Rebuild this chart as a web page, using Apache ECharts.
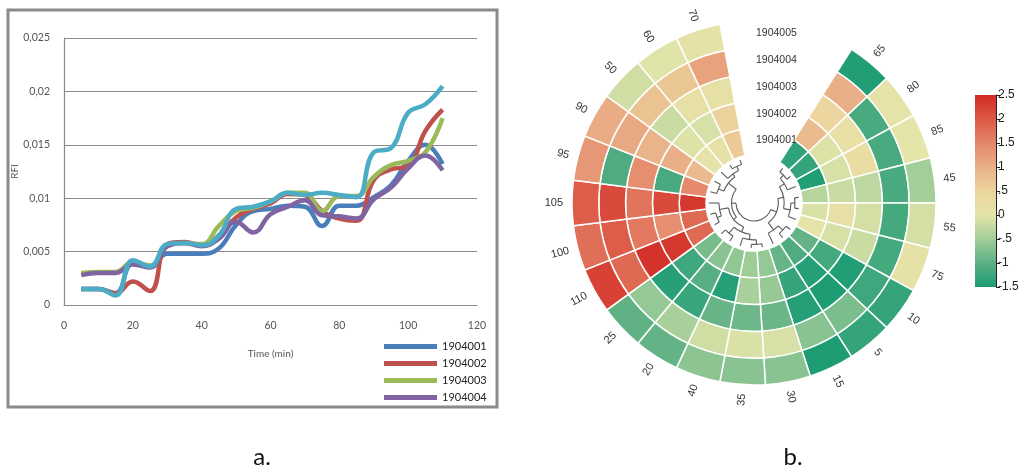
<!DOCTYPE html>
<html>
<head>
<meta charset="utf-8">
<script src="https://cdn.jsdelivr.net/npm/echarts@6/dist/echarts.min.js"></script>
<style>
  html, body { margin: 0; padding: 0; background: #ffffff; }
  #main { width: 1024px; height: 468px; }
</style>
</head>
<body>
<div id="main"></div>
<script>
// ---------- Panel a: RFI over time ----------
const timePoints = [5, 10, 15, 20, 25, 30, 35, 40, 45, 50, 55, 60, 65, 70, 75, 80, 85, 90, 95, 100, 105, 110];
const rfi1904001 = [0.0015, 0.0015, 0.0011, 0.0039, 0.0036, 0.0048, 0.0048, 0.0048, 0.0053, 0.0075, 0.0088, 0.0090, 0.0093, 0.0092, 0.0074, 0.0093, 0.0093, 0.0101, 0.0112, 0.0135, 0.0150, 0.0132];
const rfi1904002 = [0.0015, 0.0015, 0.0011, 0.0022, 0.0013, 0.0057, 0.0059, 0.0056, 0.0065, 0.0082, 0.0090, 0.0095, 0.0104, 0.0103, 0.0088, 0.0081, 0.0079, 0.0117, 0.0127, 0.0130, 0.0163, 0.0183];
const rfi1904003 = [0.0030, 0.0031, 0.0031, 0.0040, 0.0037, 0.0055, 0.0058, 0.0057, 0.0074, 0.0088, 0.0091, 0.0097, 0.0105, 0.0105, 0.0088, 0.0102, 0.0102, 0.0120, 0.0131, 0.0135, 0.0143, 0.0175];
const rfi1904004 = [0.0028, 0.0030, 0.0030, 0.0038, 0.0035, 0.0055, 0.0058, 0.0055, 0.0062, 0.0078, 0.0068, 0.0085, 0.0092, 0.0098, 0.0084, 0.0083, 0.0081, 0.0099, 0.0110, 0.0128, 0.0140, 0.0126];
const rfi1904005 = [0.0015, 0.0015, 0.0009, 0.0042, 0.0036, 0.0057, 0.0058, 0.0056, 0.0065, 0.0090, 0.0092, 0.0097, 0.0105, 0.0103, 0.0105, 0.0103, 0.0101, 0.0143, 0.0147, 0.0180, 0.0188, 0.0205];
const lineNames = ['1904001', '1904002', '1904003', '1904004', '1904005'];
const lineColors = ['#4a7ebb', '#c0504d', '#9bbb59', '#8064a2', '#4bacc6'];
const legendNames = ['1904001', '1904002', '1904003', '1904004'];

// ---------- Panel b: circular heat map ----------
const samples = ['1904001', '1904002', '1904003', '1904004', '1904005'];
const sectorLabels = ['65', '80', '85', '45', '55', '75', '10', '5', '15', '30', '35', '40', '20', '25', '110', '100', '105', '95', '90', '50', '60', '70'];
const heat1904001 = [-1.35, -1.3, -1.45, -0.35, -0.08, 0.02, -0.95, -1.1, -0.92, -0.6, -0.52, -0.62, -0.68, -0.8, 1.8, 1.8, 2.35, 1.45, 0.85, 0.05, 0.1, 0.65];
const heat1904002 = [0.85, -0.05, -0.1, -0.2, 0.15, -0.1, -1.18, -1.42, -1.3, -0.58, -0.45, -1.42, -1.05, -1.22, 2.35, 1.4, 2.15, -1.15, 1.0, -0.05, -0.1, 0.55];
const heat1904003 = [0.5, 0.2, 0.25, -0.3, -0.12, -0.2, -1.45, -1.48, -1.42, -0.9, -0.88, -0.92, -1.28, -1.4, 2.4, 1.65, 1.7, 1.4, 0.95, -0.2, 0.15, 0.15];
const heat1904004 = [1.0, -1.15, -1.15, -1.15, -1.18, -1.18, -1.22, -0.78, -0.68, -0.1, -0.08, -0.15, -0.45, -0.6, 1.8, 1.95, 2.15, -1.1, 1.1, 0.75, 0.7, 1.15];
const heat1904005 = [-1.45, 0.05, 0.0, -0.5, -0.12, 0.12, -1.3, -1.3, -1.48, -0.68, -0.68, -0.66, -0.95, -0.97, 2.25, 1.75, 1.95, 1.3, 1.05, -0.15, -0.02, 0.08];
const heatRows = [heat1904001, heat1904002, heat1904003, heat1904004, heat1904005];

// colour scale from -1.5 to 2.5 in steps of 0.5
const scaleMin = -1.5, scaleMax = 2.5;
const scaleColors = ['#1b9c74', '#5cb084', '#a2ce98', '#e4e5a9', '#edd59f', '#e9b087', '#e4866a', '#dc5846', '#d22a25'];

// hierarchical clustering of the time points: [height, left, right]
const clusterTree = [6.0,
  [4.6,
    [3.3, [2.0, [1.0, '65', '80'], '85'], [1.8, [0.9, '45', '55'], '75']],
    [2.6, [1.2, '10', '5'], '15']],
  [5.0,
    [4.2, [3.0, [1.8, [0.8, '30', '35'], '40'], [1.3, '20', '25']], [2.2, [1.2, '110', '100'], '105']],
    [2.8, [1.5, '95', '90'], [2.0, '50', [1.0, '60', '70']]]]
];

// ---------- layout ----------
const GAP_SLOTS = 3;
const angleSlots = sectorLabels.length + GAP_SLOTS;
const polarCenter = [754, 203];
const sansFont = 'Liberation Sans';

// build the series data
const heatData = [];
heatRows.forEach((row, ring) => {
  row.forEach((v, i) => heatData.push([ring, i + 0.5, v]));
});

const treeSegments = [];
function layoutTree(node) {
  if (typeof node === 'string') return { h: 0, t: sectorLabels.indexOf(node) + 0.5 };
  const h = node[0];
  const a = layoutTree(node[1]);
  const b = layoutTree(node[2]);
  treeSegments.push([a.h, a.t, h, 0]);
  treeSegments.push([b.h, b.t, h, 0]);
  treeSegments.push([h, a.t, b.t, 1]);
  return { h: h, t: (a.t + b.t) / 2 };
}
layoutTree(clusterTree);

function renderCell(params, api) {
  const ring = api.value(0), pos = api.value(1);
  const p = api.coord([ring, pos]);
  const s = api.size([1, 1], [ring, pos]);
  const cs = params.coordSys;
  return {
    type: 'sector',
    shape: {
      cx: cs.cx, cy: cs.cy,
      r0: p[2] - s[0] / 2, r: p[2] + s[0] / 2,
      startAngle: -p[3] - s[1] / 2, endAngle: -p[3] + s[1] / 2,
      clockwise: true
    },
    style: { fill: api.visual('color'), stroke: '#ffffff', lineWidth: 1.5 }
  };
}

function renderBranch(params, api) {
  const cs = params.coordSys;
  const kind = api.value(3);
  const style = { stroke: '#5c5c5c', lineWidth: 1.1, fill: 'none' };
  if (kind === 0) {
    const p1 = api.coord([api.value(0), api.value(1)]);
    const p2 = api.coord([api.value(2), api.value(1)]);
    return { type: 'line', shape: { x1: p1[0], y1: p1[1], x2: p2[0], y2: p2[1] }, style: style };
  }
  const q1 = api.coord([api.value(0), api.value(1)]);
  const q2 = api.coord([api.value(0), api.value(2)]);
  return {
    type: 'arc',
    shape: { cx: cs.cx, cy: cs.cy, r: q1[2], startAngle: -q1[3], endAngle: -q2[3], clockwise: true },
    style: style
  };
}

function renderSectorLabel(params, api) {
  const cs = params.coordSys;
  const p = api.coord([api.value(0), api.value(1)]);
  const a = p[3];
  const R = cs.r + 9;
  let deg = a * 180 / Math.PI;
  deg = ((deg % 360) + 540) % 360 - 180;
  const outward = Math.abs(deg) <= 90;
  const rot = outward ? deg : deg - 180;
  return {
    type: 'text',
    x: cs.cx + R * Math.cos(a),
    y: cs.cy - R * Math.sin(a),
    rotation: rot * Math.PI / 180,
    style: {
      text: sectorLabels[params.dataIndex],
      align: outward ? 'left' : 'right',
      verticalAlign: 'middle',
      fill: '#333333',
      fontSize: 11,
      fontFamily: sansFont
    }
  };
}

function renderRowLabel(params, api) {
  const cs = params.coordSys;
  const p = api.coord([api.value(0), api.value(1)]);
  return {
    type: 'text',
    x: cs.cx + 2,
    y: cs.cy - p[2] - 1,
    style: {
      text: samples[params.dataIndex],
      align: 'left',
      verticalAlign: 'middle',
      fill: '#333333',
      fontSize: 10.5,
      fontFamily: sansFont
    }
  };
}

function renderColorBar(params, api) {
  const p0 = api.coord([0, api.value(1)]);
  const p1 = api.coord([0, api.value(2)]);
  const w = api.size([1, 0])[0];
  const stops = scaleColors.map((c, i) => ({ offset: i / (scaleColors.length - 1), color: c }));
  return {
    type: 'rect',
    shape: { x: p0[0] - w / 2, y: p1[1], width: w, height: p0[1] - p1[1] },
    style: { fill: new echarts.graphic.LinearGradient(0, 1, 0, 0, stops) }
  };
}

const lineData = [rfi1904001, rfi1904002, rfi1904003, rfi1904004, rfi1904005];
const lineSeries = lineData.map((arr, k) => ({
  type: 'line',
  name: lineNames[k],
  xAxisIndex: 0,
  yAxisIndex: 0,
  data: timePoints.map((t, i) => [t, arr[i]]),
  smooth: 0.45,
  symbol: 'none',
  lineStyle: { width: 4.5, color: lineColors[k] },
  itemStyle: { color: lineColors[k] },
  z: 3 + k
}));

const hiddenAxisParts = {
  axisLine: { show: false }, axisTick: { show: false },
  axisLabel: { show: false }, splitLine: { show: false }, splitArea: { show: false }
};

const chart = echarts.init(document.getElementById('main'), null, { renderer: 'canvas' });
chart.setOption({
  backgroundColor: '#ffffff',
  animation: false,
  textStyle: { fontFamily: 'Lato' },
  grid: [
    { left: 64, top: 38, width: 413, height: 267 },
    { left: 975, top: 95, width: 21, height: 192 }
  ],
  xAxis: [
    {
      gridIndex: 0, type: 'value', min: 0, max: 120, interval: 20,
      name: 'Time (min)', nameLocation: 'middle', nameGap: 44,
      nameTextStyle: { fontSize: 10, color: '#555555', fontFamily: 'Lato' },
      axisLine: { show: true, lineStyle: { color: '#8c8c8c', width: 1.2 } },
      axisTick: { show: false },
      axisLabel: { fontSize: 10.5, color: '#555555', margin: 15, fontFamily: 'Lato' },
      splitLine: { show: false }
    },
    { gridIndex: 1, type: 'category', data: [''], show: false }
  ],
  yAxis: [
    {
      gridIndex: 0, type: 'value', min: 0, max: 0.025, interval: 0.005,
      name: 'RFI', nameLocation: 'middle', nameGap: 42, nameRotate: 90,
      nameTextStyle: { fontSize: 10, color: '#555555', fontFamily: 'Lato' },
      axisLine: { show: true, lineStyle: { color: '#8c8c8c', width: 1.2 } },
      axisTick: { show: false },
      axisLabel: {
        fontSize: 10.5, color: '#555555', margin: 14, fontFamily: 'Lato',
        formatter: v => String(+v.toFixed(3)).replace('.', ',')
      },
      splitLine: { show: true, lineStyle: { color: '#8c8c8c', width: 1 } }
    },
    {
      gridIndex: 1, type: 'value', min: scaleMin, max: scaleMax, interval: 0.5, position: 'right',
      axisLine: { show: true, onZero: false, lineStyle: { color: '#222222', width: 1 } },
      axisTick: { show: true, length: 4, lineStyle: { color: '#222222' } },
      axisLabel: {
        fontSize: 12, color: '#222222', margin: 2, fontFamily: sansFont,
        formatter: v => String(+v.toFixed(1)).replace(/^(-?)0\./, '$1.')
      },
      splitLine: { show: false }
    }
  ],
  polar: [
    { center: polarCenter, radius: [48, 182] },
    { center: polarCenter, radius: [0, 45] }
  ],
  angleAxis: [
    Object.assign({ polarIndex: 0, type: 'value', min: 0, max: angleSlots, startAngle: 57.6, clockwise: true, show: false }, hiddenAxisParts),
    Object.assign({ polarIndex: 1, type: 'value', min: 0, max: angleSlots, startAngle: 57.6, clockwise: true, show: false }, hiddenAxisParts)
  ],
  radiusAxis: [
    Object.assign({ polarIndex: 0, type: 'category', data: samples, show: false }, hiddenAxisParts),
    Object.assign({ polarIndex: 1, type: 'value', min: 0, max: 10, inverse: true, show: false }, hiddenAxisParts)
  ],
  visualMap: {
    type: 'continuous', show: false, min: scaleMin, max: scaleMax,
    dimension: 2, seriesIndex: 5, inRange: { color: scaleColors }
  },
  legend: {
    data: legendNames, orient: 'vertical', left: 384, top: 340, padding: 0,
    icon: 'rect', itemWidth: 53, itemHeight: 5, itemGap: 4,
    textStyle: { fontSize: 11, color: '#222222', fontFamily: 'Lato', lineHeight: 13 },
    selectedMode: false
  },
  graphic: [
    { type: 'rect', shape: { x: 8, y: 10, width: 489, height: 397 }, style: { fill: 'none', stroke: '#8a8a8a', lineWidth: 3 }, z: 0 },
    { type: 'text', x: 262, y: 457, style: { text: 'a.', fontSize: 24, fontFamily: 'Lato', fill: '#111111', align: 'center', verticalAlign: 'middle' } },
    { type: 'text', x: 793, y: 457, style: { text: 'b.', fontSize: 24, fontFamily: 'Lato', fill: '#111111', align: 'center', verticalAlign: 'middle' } }
  ],
  series: lineSeries.concat([
    { type: 'custom', coordinateSystem: 'polar', polarIndex: 0, data: heatData, renderItem: renderCell, encode: { radius: 0, angle: 1 } },
    { type: 'custom', coordinateSystem: 'polar', polarIndex: 1, data: treeSegments, renderItem: renderBranch, encode: { radius: 0, angle: 1 } },
    { type: 'custom', coordinateSystem: 'polar', polarIndex: 0, data: sectorLabels.map((s, i) => [samples.length - 1, i + 0.5]), renderItem: renderSectorLabel, encode: { radius: 0, angle: 1 } },
    { type: 'custom', coordinateSystem: 'polar', polarIndex: 0, data: samples.map((s, i) => [i, 0]), renderItem: renderRowLabel, encode: { radius: 0, angle: 1 } },
    { type: 'custom', xAxisIndex: 1, yAxisIndex: 1, data: [[0, scaleMin, scaleMax]], renderItem: renderColorBar, encode: { x: 0, y: [1, 2] } }
  ])
});
</script>
</body>
</html>
